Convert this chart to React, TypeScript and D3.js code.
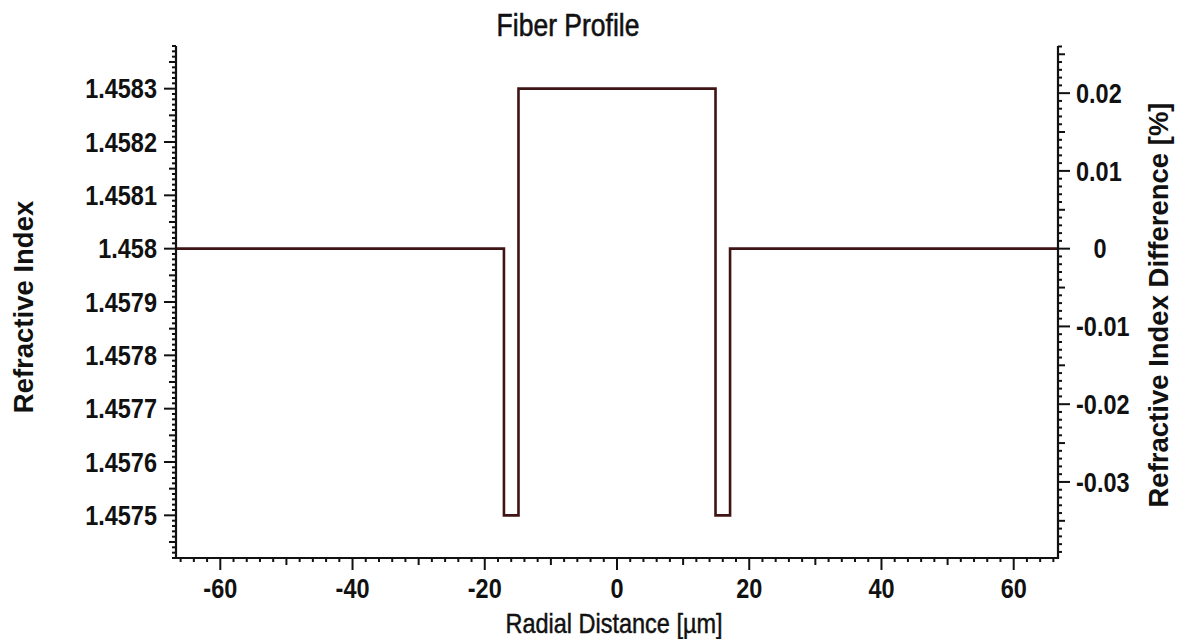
import React from 'react'
import * as d3 from 'd3'

// fiber profile: step boundaries (um) and the index in each step
const radiusEdges = [-66.7, -17.1, -14.9, 14.9, 17.1, 66.7]
const indexLevels = [1.458, 1.4575, 1.4583, 1.4575, 1.458]
const claddingIndex = 1.458

const xTicks = [-60, -40, -20, 0, 20, 40, 60]
const leftTicks = [1.4575, 1.4576, 1.4577, 1.4578, 1.4579, 1.458, 1.4581, 1.4582, 1.4583]
const rightTicks = [-0.03, -0.02, -0.01, 0, 0.01, 0.02]

const font = 'Liberation Sans, Arial, Helvetica, sans-serif'
const stretch = 1.15 // the picture's text is a little taller than wide

// text drawn with a small vertical stretch
function T(props: any) {
  const {x, y, rot, sy = stretch, children, ...rest} = props
  const r = rot ? ` rotate(${rot})` : ''
  return (
    <text transform={`translate(${x},${y})${r} scale(1,${sy})`} {...rest}>{children}</text>
  )
}

export default function App() {
  const width = 1177
  const height = 639
  const m = {left: 176, right: 1058, top: 46, bottom: 558}

  const x = d3.scaleLinear().domain([-66.7, 66.7]).range([m.left, m.right])
  const y = d3.scaleLinear().domain([1.45742, 1.45838]).range([m.bottom, m.top])
  // right axis: relative index difference in percent
  const yr = d3.scaleLinear()
    .domain(y.domain().map(n => (n - claddingIndex) / claddingIndex * 100))
    .range([m.bottom, m.top])

  const pts: [number, number][] = []
  indexLevels.forEach((n, i) => {
    pts.push([radiusEdges[i], n])
    pts.push([radiusEdges[i + 1], n])
  })
  const line = d3.line<[number, number]>().x(d => x(d[0])).y(d => y(d[1]))

  // minor ticks
  const xMinor = d3.range(-66, 67, 2)
  const lMinor = d3.range(145742, 145839)
  const rMinor = d3.range(-39, 27)
  const len = (i: number, big: number) => (i % big === 0 ? 12 : i % (big / 2) === 0 ? 7 : 4)

  const fmtL = (v: number) => String(+v.toFixed(4))
  const fmtR = (v: number) => String(+v.toFixed(2))

  return (
    <svg width={width} height={height} style={{position: 'absolute', left: 0, top: 0, background: '#fff'}}
      fontFamily={font}>
      <rect width={width} height={height} fill="#fff" />
      <T x={568} y={36} textAnchor="middle" fontSize={26.5} fill="#111" stroke="#111" strokeWidth={0.5}>Fiber Profile</T>

      {/* data line */}
      <path d={line(pts) ?? ''} fill="none" stroke="#3f1414" strokeWidth={2.6} strokeLinejoin="miter" />

      {/* axes lines */}
      <g stroke="#111" strokeWidth={2.2}>
        <line x1={m.left} x2={m.left} y1={m.top} y2={m.bottom + 1} />
        <line x1={m.right} x2={m.right} y1={m.top} y2={m.bottom + 1} />
        <line x1={m.left - 3} x2={m.right + 1} y1={m.bottom} y2={m.bottom} />
      </g>

      {/* ticks */}
      <g stroke="#111" strokeWidth={2}>
        {xMinor.map(v => (
          <line key={'x' + v} x1={x(v)} x2={x(v)} y1={m.bottom} y2={m.bottom + len(v, 20)} />
        ))}
        {lMinor.map(i => (
          <line key={'l' + i} x1={m.left} x2={m.left - len(i, 10)} y1={y(i / 100000)} y2={y(i / 100000)} />
        ))}
        {rMinor.map(i => (
          <line key={'r' + i} x1={m.right} x2={m.right + len(i, 10)} y1={yr(i / 1000)} y2={yr(i / 1000)} />
        ))}
      </g>

      <g fontSize={23.5} fontWeight="bold" fill="#111">
        {xTicks.map(v => (
          <T key={v} x={x(v)} y={598} textAnchor="middle">{v}</T>
        ))}
        {leftTicks.map(v => (
          <T key={v} x={157} y={y(v) + 8.5 * stretch} textAnchor="end">{fmtL(v)}</T>
        ))}
        {rightTicks.map(v => (
          <T key={v} x={v === 0 ? 1100 : 1076} y={yr(v) + 8.5 * stretch}
            textAnchor={v === 0 ? 'middle' : 'start'}>{fmtR(v)}</T>
        ))}
      </g>

      <T x={614} y={633} textAnchor="middle" fontSize={23.5} fill="#111" stroke="#111" strokeWidth={0.4}>Radial Distance [µm]</T>
      <T x={33} y={307} rot={-90} sy={1} textAnchor="middle" fontSize={27.5}
        fontWeight="bold" fill="#111">Refractive Index</T>
      <T x={1168} y={305} rot={-90} sy={1} textAnchor="middle" fontSize={27.5}
        fontWeight="bold" fill="#111">Refractive Index Difference [%]</T>
    </svg>
  )
}
